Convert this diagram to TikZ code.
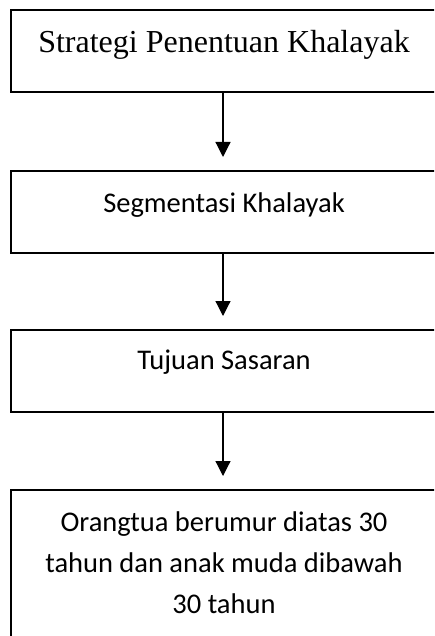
\documentclass[tikz,border=0pt]{standalone}
\usepackage{fontspec}
\setmainfont{Liberation Serif}
\newfontfamily\calfont{Carlito}
\usetikzlibrary{arrows.meta}
\tikzset{
  box/.style={draw=black, line width=1.2pt, minimum width=430pt, inner sep=0pt, outer sep=0pt, fill=none},
  arr/.style={draw=black, line width=1.2pt, -{Triangle[width=15pt,length=15pt]}, shorten >=14pt},
  sertext/.style={anchor=base, inner sep=0pt, font=\fontsize{32}{38}\selectfont},
  caltext/.style={anchor=base, inner sep=0pt, font=\calfont\fontsize{28.5}{41}\selectfont}
}
\begin{document}
\begin{tikzpicture}[x=1pt,y=-1pt]
\useasboundingbox (0,0) rectangle (434,636);
\clip (0,0) rectangle (434,636);
\node[box, minimum height=82pt] (b1) at (226,51) {};
\node[box, minimum height=82pt] (b2) at (226,212) {};
\node[box, minimum height=82pt] (b3) at (226,371) {};
\node[box, minimum height=170pt] (b4) at (226,575) {};
\node[sertext] (t1) at (224,53) {Strategi Penentuan Khalayak};
\node[caltext] (t2) at (224,212) {Segmentasi Khalayak};
\node[caltext] (t3) at (224,369) {Tujuan Sasaran};
\node[caltext] (t4) at (224,531) {\parbox[t]{420pt}{\centering\calfont\fontsize{28.5}{41}\selectfont Orangtua berumur diatas 30\\ tahun dan anak muda dibawah\\ 30 tahun}};
\draw[arr] ([xshift=-3pt]b1.south) -- ([xshift=-3pt]b2.north);
\draw[arr] ([xshift=-3pt]b2.south) -- ([xshift=-3pt]b3.north);
\draw[arr] ([xshift=-3pt]b3.south) -- ([xshift=-3pt]b4.north);
\end{tikzpicture}
\end{document}
